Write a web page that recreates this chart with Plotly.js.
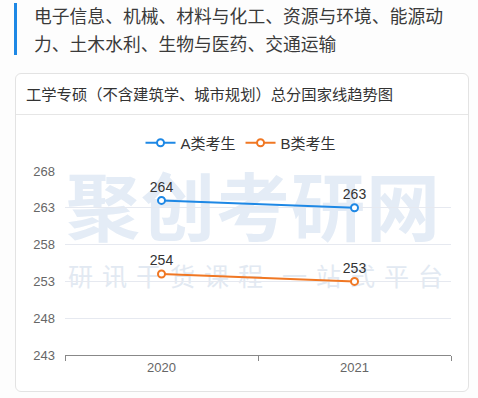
<!DOCTYPE html>
<html><head><meta charset="utf-8">
<script src="https://cdn.plot.ly/plotly-3.0.1.min.js"></script>
<style>
html,body{margin:0;padding:0;background:#fdfdfd;width:478px;height:398px;overflow:hidden;font-family:"Liberation Sans","Noto Sans CJK SC",sans-serif;}
#bar{position:absolute;left:14px;top:3px;width:3px;height:52px;background:#1e88e5;}
#head{position:absolute;left:34px;top:3px;width:440px;font-size:17.8px;line-height:28px;color:#3a3a3a;}
#card{position:absolute;left:15px;top:73px;width:454px;height:319px;border:1px solid #e3e3e3;border-radius:6px;background:#fff;box-sizing:border-box;}
#ctitle{position:absolute;left:26px;top:85px;font-size:15.3px;color:#333;line-height:20px;white-space:nowrap;}
#sep{position:absolute;left:16px;top:114px;width:452px;height:1px;background:#e6e6e6;}
#wm1{position:absolute;left:66px;top:168px;font-size:74px;line-height:84px;font-weight:bold;color:#e4ecf6;letter-spacing:1px;white-space:nowrap;}
#wm2{position:absolute;left:68px;top:262px;font-size:25px;line-height:30px;color:#e2e9f2;letter-spacing:9px;white-space:nowrap;}
#wm2 span{margin-left:10px;}
#chart{position:absolute;left:0;top:0;width:478px;height:398px;}
</style></head>
<body>
<div id="bar"></div>
<div id="head">电子信息、机械、材料与化工、资源与环境、能源动<br>力、土木水利、生物与医药、交通运输</div>
<div id="card"></div>
<div id="ctitle">工学专硕（不含建筑学、城市规划）总分国家线趋势图</div>
<div id="sep"></div>
<div id="wm1">聚创考研网</div>
<div id="wm2">研讯干货课程<span>一站式平台</span></div>
<div id="chart"></div>
<script>
const years = ["2020", "2021"];
const seriesNames = ["A类考生", "B类考生"];
const scoresA = [264, 263];
const scoresB = [254, 253];
const yTicks = [243, 248, 253, 258, 263, 268];

const font = '"Liberation Sans","Noto Sans CJK SC",sans-serif';
function trace(name, vals, color) {
  return {
    x: years, y: vals, name: name, type: 'scatter', mode: 'lines+markers+text',
    text: vals.map(String), textposition: 'top center',
    textfont: {size: 14, color: '#333', family: font},
    line: {color: color, width: 2},
    marker: {size: 7, color: '#fff', line: {color: color, width: 2}},
    cliponaxis: false
  };
}
const data = [trace(seriesNames[0], scoresA, '#1e88e5'), trace(seriesNames[1], scoresB, '#f07723')];
const layout = {
  width: 478, height: 398,
  margin: {l: 65, r: 27, t: 171, b: 43},
  paper_bgcolor: 'rgba(0,0,0,0)', plot_bgcolor: 'rgba(0,0,0,0)',
  font: {family: font, color: '#666', size: 13},
  showlegend: true,
  legend: {orientation: 'h', x: 0.456, xanchor: 'center', y: 1.152, yanchor: 'middle',
    font: {size: 15, color: '#333', family: font}, itemgap: 12, bgcolor: 'rgba(0,0,0,0)'},
  xaxis: {type: 'category', range: [-0.5, 1.5], showgrid: false, zeroline: false,
    showline: true, linecolor: '#888', linewidth: 1.2,
    ticks: 'outside', tickson: 'boundaries', ticklen: 5, tickcolor: '#888',
    tickfont: {size: 13, color: '#666'}, fixedrange: true},
  yaxis: {range: [243, 268], tickvals: yTicks, ticktext: yTicks.map(String),
    showgrid: true, gridcolor: '#e6e9f0', gridwidth: 1, zeroline: false, showline: false,
    ticklabelstandoff: 9, tickfont: {size: 13, color: '#666'}, fixedrange: true}
};
Plotly.newPlot('chart', data, layout, {displayModeBar: false, staticPlot: true});
</script>
</body></html>
